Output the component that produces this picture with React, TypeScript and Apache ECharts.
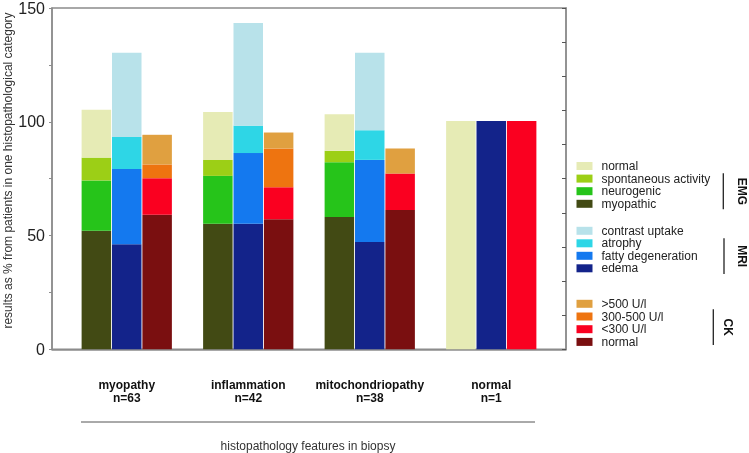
import { useEffect, useRef } from 'react';
import * as echarts from 'echarts';

// Histopathological categories and number of patients in each
const categoryNames = ['myopathy', 'inflammation', 'mitochondriopathy', 'normal'];
const patientCounts = [63, 42, 38, 1];

// EMG findings (% of patients)
const emgMyopathic = [52, 55, 58, 0];
const emgNeurogenic = [22, 21, 24, 0];
const emgSpontaneous = [10, 7, 5, 0];
const emgNormal = [21, 21, 16, 100];

// MRI findings (% of patients)
const mriEdema = [46, 55, 47, 100];
const mriFatty = [33, 31, 36, 0];
const mriAtrophy = [14, 12, 13, 0];
const mriContrast = [37, 45, 34, 0];

// CK levels (% of patients)
const ckNormal = [59, 57, 61, 0];
const ckBelow300 = [16, 14, 16, 100];
const ck300to500 = [6, 17, 0, 0];
const ckAbove500 = [13, 7, 11, 0];

const yLabelTicks = [0, 50, 100, 150];

const FONT = '"Liberation Sans", Arial, Helvetica, sans-serif';

type Segment = { id: string; label: string; stack: string; color: string; data: number[] };

// bottom-to-top stacking order within each bar
const segments: Segment[] = [
  { id: 'EMG myopathic', label: 'myopathic', stack: 'EMG', color: '#424a14', data: emgMyopathic },
  { id: 'EMG neurogenic', label: 'neurogenic', stack: 'EMG', color: '#26c41a', data: emgNeurogenic },
  { id: 'EMG spontaneous', label: 'spontaneous activity', stack: 'EMG', color: '#9ccf16', data: emgSpontaneous },
  { id: 'EMG normal', label: 'normal', stack: 'EMG', color: '#e6ebb5', data: emgNormal },
  { id: 'MRI edema', label: 'edema', stack: 'MRI', color: '#13238a', data: mriEdema },
  { id: 'MRI fatty', label: 'fatty degeneration', stack: 'MRI', color: '#1479ef', data: mriFatty },
  { id: 'MRI atrophy', label: 'atrophy', stack: 'MRI', color: '#2ed6e6', data: mriAtrophy },
  { id: 'MRI contrast', label: 'contrast uptake', stack: 'MRI', color: '#b8e2ea', data: mriContrast },
  { id: 'CK normal', label: 'normal', stack: 'CK', color: '#7a0f10', data: ckNormal },
  { id: 'CK <300', label: '<300 U/l', stack: 'CK', color: '#fa0020', data: ckBelow300 },
  { id: 'CK 300-500', label: '300-500 U/l', stack: 'CK', color: '#ee7410', data: ck300to500 },
  { id: 'CK >500', label: '>500 U/l', stack: 'CK', color: '#e0a040', data: ckAbove500 },
];

const labelOf: Record<string, string> = {};
segments.forEach((s) => (labelOf[s.id] = s.label));

const PLOT_TOP = 7;
const PLOT_H = 342.3;

function legendFor(stack: string, top: number, gap: number) {
  return {
    orient: 'vertical',
    left: 576.5,
    top,
    padding: 0,
    itemWidth: 16,
    itemHeight: 8,
    itemGap: gap,
    icon: 'rect',
    selectedMode: false,
    textStyle: { fontSize: 12, color: '#222', fontFamily: FONT, lineHeight: 12, padding: [0, 0, 0, 4] },
    data: segments.filter((s) => s.stack === stack).map((s) => s.id).reverse(),
    formatter: (name: string) => labelOf[name],
  };
}

function groupMarker(label: string, lineX: number, y1: number, y2: number, textX: number) {
  return [
    { type: 'line', shape: { x1: lineX, y1, x2: lineX, y2 }, style: { stroke: '#222', lineWidth: 1.3 } },
    {
      type: 'text',
      x: textX,
      y: (y1 + y2) / 2,
      rotation: -Math.PI / 2,
      style: {
        text: label,
        fontSize: 12,
        fontWeight: 'bold',
        fontFamily: FONT,
        fill: '#111',
        textAlign: 'center',
        textVerticalAlign: 'middle',
        align: 'center',
        verticalAlign: 'middle',
      },
    },
  ];
}

export default function App() {
  const ref = useRef<HTMLDivElement>(null);

  useEffect(() => {
    if (!ref.current) return;
    const chart = echarts.init(ref.current, undefined, { renderer: 'svg' });

    chart.setOption({
      animation: false,
      textStyle: { fontFamily: FONT },
      grid: [
        // frame with the value axes
        { left: 52, top: PLOT_TOP, width: 514, height: PLOT_H, show: true, borderColor: '#8c8c8c', borderWidth: 1.5, backgroundColor: 'transparent' },
        // band where the grouped bars sit
        { left: 66, top: PLOT_TOP, width: 486, height: PLOT_H },
      ],
      xAxis: [
        {
          gridIndex: 0,
          type: 'value',
          min: 0,
          max: 1,
          axisLine: { show: true, lineStyle: { color: '#8c8c8c', width: 1.5 } },
          axisTick: { show: false },
          axisLabel: { show: false },
          splitLine: { show: false },
        },
        {
          gridIndex: 1,
          type: 'category',
          data: categoryNames,
          axisLine: { show: false },
          axisTick: { show: false },
          axisLabel: {
            interval: 0,
            margin: 29,
            fontSize: 12,
            fontWeight: 'bold',
            lineHeight: 13,
            color: '#111',
            formatter: (v: string, i: number) => `${v}\nn=${patientCounts[i]}`,
          },
        },
      ],
      yAxis: [
        {
          gridIndex: 0,
          type: 'value',
          min: 0,
          max: 150,
          interval: 25,
          axisLine: { show: true, lineStyle: { color: '#8c8c8c', width: 1.5 } },
          axisTick: { show: true, length: 3, lineStyle: { color: '#8c8c8c' } },
          axisLabel: {
            fontSize: 16,
            color: '#222',
            margin: 7,
            formatter: (v: number) => (yLabelTicks.includes(v) ? String(v) : ''),
          },
          splitLine: { show: false },
        },
        {
          gridIndex: 0,
          type: 'value',
          position: 'right',
          min: 0,
          max: 150,
          interval: 15,
          axisLine: { show: true, lineStyle: { color: '#8c8c8c', width: 1.5 } },
          axisTick: { show: true, inside: true, length: 4, lineStyle: { color: '#555' } },
          axisLabel: { show: false },
          splitLine: { show: false },
        },
        {
          gridIndex: 1,
          type: 'value',
          min: 0,
          max: 150,
          show: false,
          splitLine: { show: false },
        },
      ],
      legend: [legendFor('EMG', 160, 0.6), legendFor('MRI', 224.8, 0.5), legendFor('CK', 297.8, 0.7)],
      series: segments.map((s) => ({
        type: 'bar',
        name: s.id,
        stack: s.stack,
        xAxisIndex: 1,
        yAxisIndex: 2,
        barWidth: 29.5,
        barGap: '3%',
        itemStyle: { color: s.color },
        data: s.data,
      })),
      graphic: [
        {
          type: 'text',
          x: 8,
          y: 170.5,
          rotation: Math.PI / 2,
          style: {
            text: 'results as % from patients in one histopathological category',
            fontSize: 12,
            fontFamily: FONT,
            fill: '#333',
            textAlign: 'center',
            textVerticalAlign: 'middle',
            align: 'center',
            verticalAlign: 'middle',
          },
        },
        { type: 'line', shape: { x1: 81, y1: 422, x2: 535, y2: 422 }, style: { stroke: '#555', lineWidth: 1 } },
        {
          type: 'text',
          x: 308,
          y: 446,
          style: {
            text: 'histopathology features in biopsy',
            fontSize: 12,
            fontFamily: FONT,
            fill: '#333',
            textAlign: 'center',
            textVerticalAlign: 'middle',
            align: 'center',
            verticalAlign: 'middle',
          },
        },
        ...groupMarker('EMG', 723.3, 173.3, 209.3, 741.7),
        ...groupMarker('MRI', 724, 238.3, 274, 742),
        ...groupMarker('CK', 713.3, 309.3, 345, 728),
      ],
    });

    return () => chart.dispose();
  }, []);

  return <div ref={ref} style={{ position: 'fixed', left: 0, top: 0, width: 749, height: 453 }} />;
}
